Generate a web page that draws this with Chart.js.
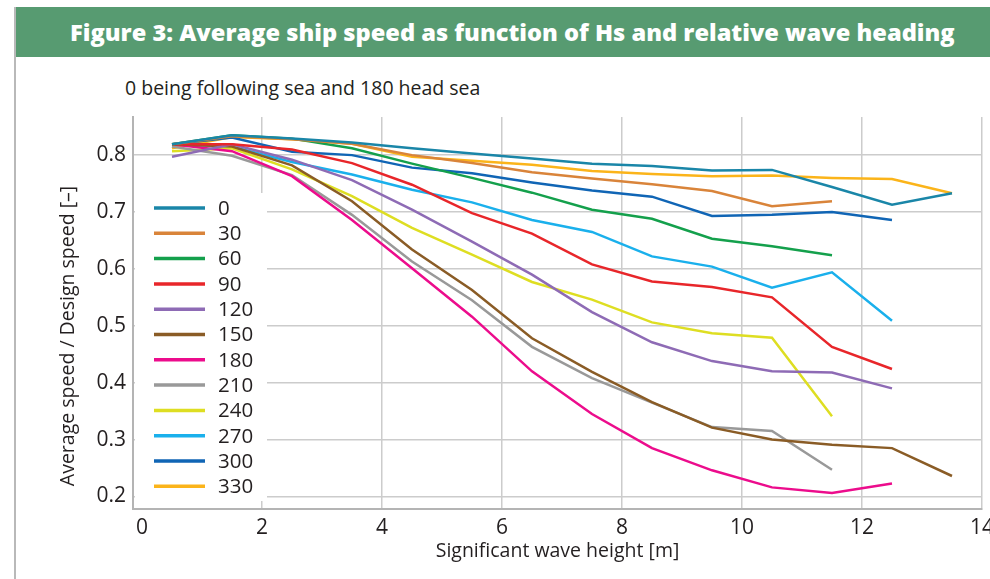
<!DOCTYPE html>
<html>
<head>
<meta charset="utf-8">
<script src="https://cdn.jsdelivr.net/npm/chart.js@4.4.1/dist/chart.umd.min.js"></script>
<style>
  html, body { margin: 0; padding: 0; background: #fff; width: 990px; height: 579px; overflow: hidden; }
  #frame { position: absolute; left: 14px; top: 7px; width: 990px; height: 600px; border-left: 2px solid #b9b9b9; border-top: 1px solid #b9b9b9; }
  #head { position: absolute; left: 16px; top: 7px; width: 974px; height: 50px; background: #579b71; }
  #headText { position: absolute; left: 70px; top: 7px; height: 50px; line-height: 50px; white-space: nowrap;
    font-family: "Open Sans", sans-serif; font-weight: 800; font-size: 21px; color: #fff; }
  #sub { position: absolute; left: 125px; top: 75px; line-height: 26px; white-space: nowrap;
    font-family: "Open Sans", sans-serif; font-size: 19.5px; color: #231f20; }
  #chart { position: absolute; left: 0; top: 0; }
</style>
</head>
<body>
<div id="frame"></div>
<div id="head"></div>
<div id="headText">Figure 3: Average ship speed as function of Hs and relative wave heading</div>
<div id="sub">0 being following sea and 180 head sea</div>
<canvas id="chart" width="1000" height="579"></canvas>
<script>
// significant wave height bins (x)
var hsValues = [0.5, 1.5, 2.5, 3.5, 4.5, 5.5, 6.5, 7.5, 8.5, 9.5, 10.5, 11.5, 12.5, 13.5];

// relative wave heading (legend)
var headings = ['0', '30', '60', '90', '120', '150', '180', '210', '240', '270', '300', '330'];
var colors = ['#1a86a8', '#d9843a', '#14a04c', '#e8262a', '#8e6bb5', '#8a5c26',
              '#ec0c8c', '#999999', '#dede22', '#1ab0ec', '#1065b5', '#fbb41a'];

// average speed / design speed per heading
var speed0   = [0.819, 0.835, 0.829, 0.822, 0.812, 0.803, 0.794, 0.785, 0.781, 0.773, 0.774, 0.744, 0.713, 0.733];
var speed30  = [0.819, 0.833, 0.828, 0.820, 0.800, 0.786, 0.770, 0.759, 0.749, 0.737, 0.710, 0.719];
var speed60  = [0.819, 0.835, 0.829, 0.812, 0.785, 0.760, 0.734, 0.704, 0.688, 0.653, 0.640, 0.624];
var speed90  = [0.819, 0.819, 0.810, 0.786, 0.748, 0.698, 0.662, 0.608, 0.578, 0.568, 0.550, 0.463, 0.424];
var speed120 = [0.797, 0.819, 0.792, 0.756, 0.704, 0.648, 0.590, 0.524, 0.471, 0.438, 0.420, 0.418, 0.390];
var speed150 = [0.819, 0.815, 0.782, 0.719, 0.634, 0.563, 0.478, 0.419, 0.366, 0.321, 0.300, 0.291, 0.285, 0.236];
var speed180 = [0.819, 0.807, 0.763, 0.686, 0.601, 0.516, 0.420, 0.345, 0.285, 0.246, 0.216, 0.206, 0.223];
var speed210 = [0.815, 0.799, 0.765, 0.695, 0.613, 0.545, 0.463, 0.408, 0.365, 0.322, 0.315, 0.247];
var speed240 = [0.807, 0.812, 0.775, 0.728, 0.672, 0.625, 0.577, 0.546, 0.506, 0.487, 0.479, 0.341];
var speed270 = [0.819, 0.815, 0.788, 0.766, 0.739, 0.717, 0.686, 0.665, 0.622, 0.604, 0.567, 0.594, 0.509];
var speed300 = [0.819, 0.831, 0.806, 0.800, 0.778, 0.768, 0.752, 0.738, 0.727, 0.693, 0.695, 0.700, 0.686];
var speed330 = [0.812, 0.832, 0.828, 0.820, 0.797, 0.790, 0.783, 0.772, 0.767, 0.763, 0.764, 0.760, 0.758, 0.733];

var series = [speed0, speed30, speed60, speed90, speed120, speed150,
              speed180, speed210, speed240, speed270, speed300, speed330];

var xTicks = [0, 2, 4, 6, 8, 10, 12, 14];
var yTicks = [0.2, 0.3, 0.4, 0.5, 0.6, 0.7, 0.8];

// fit the heading text to the width of the original bar
var headText = document.getElementById('headText');
var w = headText.getBoundingClientRect().width;
headText.style.fontSize = (21 * 885 / w) + 'px';

var textColor = '#231f20';

// legend sits inside the plot on a white box
var legendBox = {
  id: 'legendBox',
  beforeDatasetsDraw: function(chart) {
    var c = chart.ctx;
    c.save();
    c.fillStyle = '#fff';
    c.fillRect(135, 193, 132, 308);
    c.font = '20.5px "Open Sans"';
    c.textBaseline = 'middle';
    chart.data.datasets.forEach(function(ds, i) {
      var y = 208 + i * 25.3;
      c.strokeStyle = ds.borderColor;
      c.lineWidth = 3.5;
      c.beginPath();
      c.moveTo(154, y);
      c.lineTo(205, y);
      c.stroke();
      c.fillStyle = textColor;
      c.fillText(ds.label, 218, y + 1);
    });
    c.restore();
  }
};

var yTitle = {
  id: 'yTitle',
  afterDraw: function(chart) {
    var c = chart.ctx;
    c.save();
    c.translate(68, 336);
    c.rotate(-Math.PI / 2);
    c.textAlign = 'center';
    c.textBaseline = 'middle';
    c.font = '19.5px "Open Sans"';
    c.fillStyle = textColor;
    c.fillText('Average speed / Design speed [–]', 0, 0);
    c.restore();
  }
};

var datasets = headings.map(function(h, i) {
  return {
    label: h,
    data: series[i].map(function(v, j) { return { x: hsValues[j], y: v }; }),
    borderColor: colors[i],
    backgroundColor: colors[i],
    borderWidth: 2.5,
    pointRadius: 0,
    tension: 0,
    fill: false
  };
});

var ctx = document.getElementById('chart').getContext('2d');
var chart = new Chart(ctx, {
  type: 'line',
  data: { datasets: datasets },
  options: {
    responsive: false,
    animation: false,
    devicePixelRatio: 1,
    layout: { padding: { top: 117, right: 18, left: 0, bottom: 0 } },
    plugins: { legend: { display: false }, tooltip: { enabled: false } },
    scales: {
      x: {
        type: 'linear',
        min: -0.15,
        max: 14,
        afterBuildTicks: function(s) { s.ticks = xTicks.map(function(v) { return { value: v }; }); },
        afterFit: function(s) { s.height = 70; },
        grid: {
          color: function(c) { return c.tick && c.tick.value === 0 ? 'rgba(0,0,0,0)' : '#cccccc'; },
          lineWidth: 1.5,
          drawTicks: false
        },
        border: { color: '#b4b4b4', width: 2 },
        ticks: { padding: 6, color: textColor, font: { family: 'Open Sans', size: 21 }, maxRotation: 0, autoSkip: false },
        title: { display: true, text: 'Significant wave height [m]', color: textColor,
                 font: { family: 'Open Sans', size: 19.5 }, padding: { top: 0, bottom: 16 } }
      },
      y: {
        min: 0.178,
        max: 0.867,
        afterBuildTicks: function(s) { s.ticks = yTicks.map(function(v) { return { value: v }; }); },
        afterFit: function(s) { s.width = 133; },
        grid: { color: '#cccccc', lineWidth: 1.5, drawTicks: false },
        border: { color: '#b4b4b4', width: 2 },
        ticks: { padding: 7, color: textColor, font: { family: 'Open Sans', size: 21 },
                 callback: function(v) { return v.toFixed(1); } }
      }
    }
  },
  plugins: [legendBox, yTitle]
});
</script>
</body>
</html>
